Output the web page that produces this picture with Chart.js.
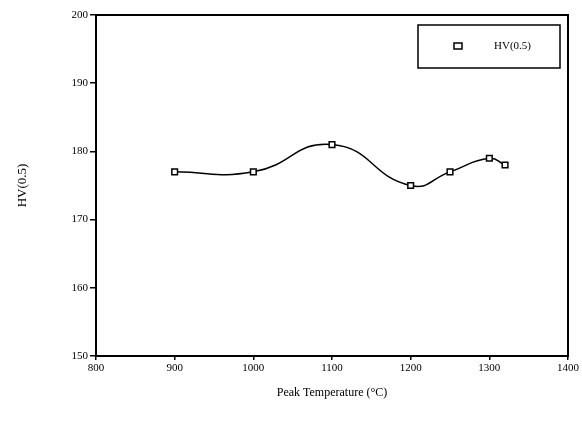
<!DOCTYPE html>
<html>
<head>
<meta charset="utf-8">
<script src="https://cdn.jsdelivr.net/npm/chart.js@4/dist/chart.umd.min.js"></script>
<style>
  html, body { margin: 0; padding: 0; background: #fff; }
  #wrap { width: 582px; height: 431px; }
</style>
</head>
<body>
<div id="wrap"><canvas id="hv-chart" width="582" height="431"></canvas></div>
<script>
// peak temperature (°C) and hardness
const temps = [900, 1000, 1100, 1200, 1250, 1300, 1320];
const hardness = [177, 177, 181, 175, 177, 179, 178];
const xTicks = [800, 900, 1000, 1100, 1200, 1300, 1400];
const yTicks = [150, 160, 170, 180, 190, 200];
const seriesLabel = "HV(0.5)";

const serif = "'Liberation Serif', 'DejaVu Serif', serif";

// frame round the plot + legend box in the upper right
const framePlugin = {
  id: "frame",
  afterDraw(chart) {
    const { ctx, chartArea: a } = chart;
    ctx.save();
    ctx.strokeStyle = "#000";
    ctx.lineWidth = 2;
    ctx.strokeRect(a.left, a.top, a.right - a.left, a.bottom - a.top);

    // legend
    const bx = 418, by = 25, bw = 142, bh = 43;
    ctx.lineWidth = 1.5;
    ctx.strokeRect(bx, by, bw, bh);
    ctx.fillStyle = "#fff";
    ctx.fillRect(454, 43, 8, 6);
    ctx.strokeRect(454, 43, 8, 6);
    ctx.fillStyle = "#000";
    ctx.font = "11px " + serif;
    ctx.textBaseline = "middle";
    ctx.textAlign = "left";
    ctx.fillText(seriesLabel, 494, 46);
    ctx.restore();
  },
};

new Chart(document.getElementById("hv-chart"), {
  type: "line",
  data: {
    datasets: [
      {
        label: seriesLabel,
        data: temps.map((t, i) => ({ x: t, y: hardness[i] })),
        borderColor: "#000",
        borderWidth: 1.5,
        tension: 0.5,
        pointStyle: "rect",
        pointRadius: 4,
        pointBackgroundColor: "#fff",
        pointBorderColor: "#000",
        pointBorderWidth: 1.5,
      },
    ],
  },
  options: {
    responsive: false,
    animation: false,
    layout: { padding: { top: 15, right: 14, left: 0, bottom: 0 } },
    plugins: {
      legend: { display: false },
      tooltip: { enabled: false },
    },
    scales: {
      x: {
        type: "linear",
        min: 800,
        max: 1400,
        afterBuildTicks: (s) => { s.ticks = xTicks.map((v) => ({ value: v })); },
        afterFit: (s) => { s.height = 75; },
        grid: { drawOnChartArea: false, tickLength: 4, color: "#000", lineWidth: 1.5 },
        border: { display: true, color: "#000", width: 2 },
        ticks: {
          color: "#000",
          font: { family: serif, size: 11 },
          padding: 2,
          callback: (v) => String(v),
        },
        title: {
          display: true,
          text: "Peak Temperature (°C)",
          color: "#000",
          font: { family: serif, size: 12 },
          padding: { top: 0, bottom: 31 },
        },
      },
      y: {
        min: 150,
        max: 200,
        afterBuildTicks: (s) => { s.ticks = yTicks.map((v) => ({ value: v })); },
        afterFit: (s) => { s.width = 96; },
        grid: { drawOnChartArea: false, tickLength: 6, color: "#000", lineWidth: 1.5 },
        border: { display: true, color: "#000", width: 2 },
        ticks: { color: "#000", font: { family: serif, size: 11 }, padding: 2 },
        title: {
          display: true,
          text: "HV(0.5)",
          color: "#000",
          font: { family: serif, size: 13 },
          padding: { top: 15, bottom: 0 },
        },
      },
    },
  },
  plugins: [framePlugin],
});
</script>
</body>
</html>
